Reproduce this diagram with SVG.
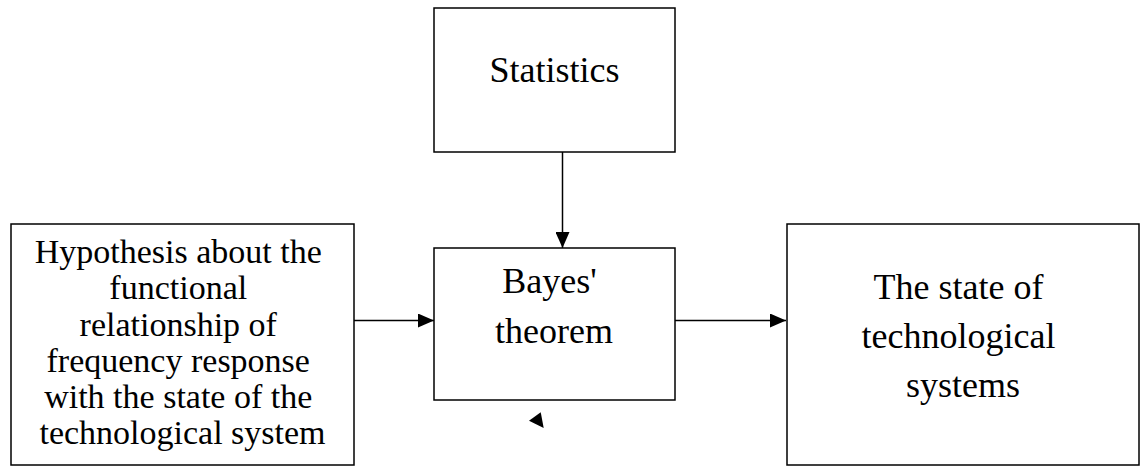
<svg xmlns="http://www.w3.org/2000/svg" width="1147" height="466" viewBox="0 0 1147 466">
<style>
.box{fill:#fff;stroke:#000;stroke-width:1.5}
.t{font-family:"Liberation Serif","Times New Roman",serif;fill:#000;text-anchor:middle}
.c{stroke:#000;stroke-width:1.5;fill:none}
</style>
<defs>
<marker id="ah" markerUnits="userSpaceOnUse" markerWidth="16" markerHeight="14" refX="16" refY="7" orient="auto">
<path d="M0,0 L16,7 L0,14 Z" fill="#000"/>
</marker>
</defs>
<rect width="1147" height="466" fill="#fff"/>
<g id="connectors">
<line class="c" x1="562.5" y1="152" x2="562.5" y2="248" marker-end="url(#ah)"/>
<line class="c" x1="354" y1="320.5" x2="434" y2="320.5" marker-end="url(#ah)"/>
<line class="c" x1="675" y1="320.5" x2="786" y2="320.5" marker-end="url(#ah)"/>
<path d="M529,420.7 L540.7,412.3 L543.7,428 Z" fill="#000"/>
</g>
<g id="statistics">
<rect class="box" x="434" y="8" width="241" height="144"/>
<text class="t" x="554.5" y="82" font-size="36">Statistics</text>
</g>
<g id="hypothesis">
<rect class="box" x="11" y="224" width="343" height="241"/>
<text class="t" font-size="34">
<tspan x="182.5" y="263">Hypothesis about the</tspan>
<tspan x="182.5" y="299">functional</tspan>
<tspan x="182.5" y="335.5">relationship of</tspan>
<tspan x="182.5" y="371.5">frequency response</tspan>
<tspan x="182.5" y="407.5">with the state of the</tspan>
<tspan x="182.5" y="443.5">technological system</tspan>
</text>
</g>
<g id="bayes">
<rect class="box" x="434" y="248" width="241" height="152"/>
<text class="t" font-size="36">
<tspan x="554" y="292.5">Bayes'</tspan>
<tspan x="554" y="342.5">theorem</tspan>
</text>
</g>
<g id="state">
<rect class="box" x="787" y="224" width="352" height="241"/>
<text class="t" font-size="36">
<tspan x="963" y="298.5">The state of</tspan>
<tspan x="963" y="347.5">technological</tspan>
<tspan x="963" y="396.5">systems</tspan>
</text>
</g>
</svg>
